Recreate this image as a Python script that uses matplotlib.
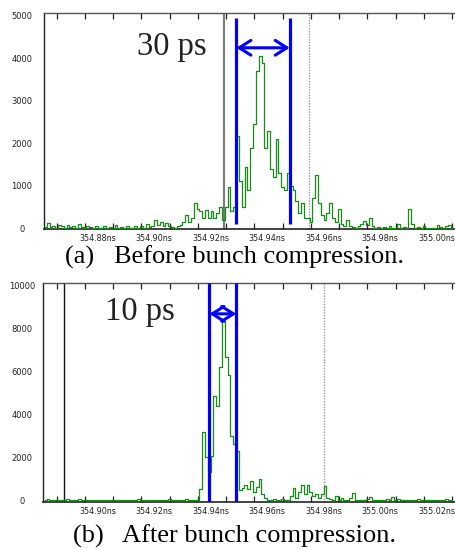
import numpy as np
import matplotlib
matplotlib.use('Agg')
import matplotlib.pyplot as plt
from matplotlib.transforms import ScaledTranslation

# ---------------- data ----------------
# (a) before bunch compression: counts sampled every 1 ps starting at top_t0 (ns)
top_t0 = 354.856
top_dt = 0.001
top_counts = [30, 120, 20, 60, 10, 80, 40, 0, 70, 20,
              50, 0, 90, 30, 0, 60, 20, 0, 40, 10,
              0, 50, 0, 30, 0, 80, 0, 20, 0, 60,
              0, 0, 40, 0, 50, 0, 100, 20, 60, 200,
              80, 150, 40, 120, 60, 20, 0, 40, 80, 150,
              300, 150, 250, 600, 450, 400, 250, 420, 250, 400,
              250, 350, 500, 200, 500, 970, 400, 500, 2170, 1100,
              500, 1430, 900, 1900, 2450, 3700, 4050, 3900, 1900, 2300,
              1400, 1200, 2100, 1300, 960, 900, 1290, 1000, 900, 650,
              350, 600, 250, 250, 150, 700, 1250, 600, 300, 200,
              350, 600, 250, 150, 460, 100, 60, 200, 60, 20,
              0, 40, 100, 160, 80, 250, 60,
              0, 30, 0, 20, 0, 40, 0, 10, 100, 0,
              30, 0, 440, 100, 0, 20, 0, 40, 0, 0,
              10, 0, 80, 20, 0, 60, 80, 0]
top_xlim = [354.8555, 355.001]
top_ylim = [-20, 5070]
top_yticks = [0, 1000, 2000, 3000, 4000, 5000]
top_xticks = [354.86, 354.87, 354.88, 354.89, 354.90, 354.91, 354.92, 354.93,
              354.94, 354.95, 354.96, 354.97, 354.98, 354.99, 355.00]
top_xticklabels = ['', '', '354.88ns', '', '354.90ns', '', '354.92ns', '',
                   '354.94ns', '', '354.96ns', '', '354.98ns', '', '355.00ns']
top_cursor = 354.9191      # solid cursor
top_dotted = 354.9493      # dotted cursor
top_marks = [354.9236, 354.9425]   # blue FWHM markers
top_arrow_y = 4250
top_mark_range = [90, 4950]
top_label = '30 ps'

# (b) after bunch compression
bot_t0 = 354.876
bot_dt = 0.001
bot_counts = [0, 50, 0, 0, 20, 0, 0, 0, 30, 0,
              0, 0, 60, 0, 0, 0, 0, 0, 0, 0,
              0, 0, 0, 0, 0, 0, 0, 0, 0, 0,
              0, 0, 0, 40, 0, 0, 0, 0, 0, 0,
              0, 0, 0, 0, 30, 0, 0, 0, 0, 0,
              40, 0, 0, 0, 0, 500, 3180, 2000, 1300, 2070,
              4850, 4400, 6200, 8380, 6700, 5850, 3000, 2600, 2300, 460,
              550, 700, 500, 900, 400, 600, 1000, 300, 100, 0,
              0, 50, 0, 0, 30, 0, 0, 200, 550, 100,
              400, 700, 300, 700, 400, 200, 300, 100, 300, 640,
              100, 50, 0, 200, 0, 80, 0, 0, 100, 320,
              0, 0, 0, 0, 50, 150, 0, 0, 0, 0,
              0, 30, 0, 150, 0, 60, 0, 0, 0, 0,
              0, 0, 40, 0, 0, 0, 0, 0, 0, 0,
              0, 0, 50, 0, 0]
bot_xlim = [354.8752, 355.0210]
bot_ylim = [-90, 10140]
bot_yticks = [0, 2000, 4000, 6000, 8000, 10000]
bot_xticks = [354.88, 354.89, 354.90, 354.91, 354.92, 354.93, 354.94, 354.95,
              354.96, 354.97, 354.98, 354.99, 355.00, 355.01, 355.02]
bot_xticklabels = ['', '', '354.90ns', '', '354.92ns', '', '354.94ns', '',
                   '354.96ns', '', '354.98ns', '', '355.00ns', '', '355.02ns']
bot_cursor = 354.8826
bot_dotted = 354.9747
bot_marks = [354.9341, 354.9436]
bot_arrow_y = 8700
bot_mark_range = [-90, 10140]
bot_label = '10 ps'

captions = ['(a)   Before bunch compression.', '(b)   After bunch compression.']

# ---------------- figure ----------------
W, H = 455, 549
fig = plt.figure(figsize=(W / 100, H / 100), dpi=100)

def px_axes(left, top, right, bottom):
    return fig.add_axes([left / W, 1 - bottom / H, (right - left) / W, (bottom - top) / H])

ax1 = px_axes(44, 13, 455, 229)
ax2 = px_axes(43, 283, 455, 502)

serif = ['Liberation Serif', 'DejaVu Serif']

panels = [
    (ax1, top_t0, top_dt, top_counts, top_xlim, top_ylim, top_yticks, top_xticks,
     top_xticklabels, top_cursor, '#7a7a7a', 1.5, top_dotted, top_marks, top_arrow_y,
     top_mark_range, top_label, 15.8),
    (ax2, bot_t0, bot_dt, bot_counts, bot_xlim, bot_ylim, bot_yticks, bot_xticks,
     bot_xticklabels, bot_cursor, '#111111', 1.0, bot_dotted, bot_marks, bot_arrow_y,
     bot_mark_range, bot_label, 15.1),
]

for (ax, t0, dt, counts, xlim, ylim, yticks, xticks, xtl, cur, curc, curlw,
     dot, marks, ay, mrange, label, ypad) in panels:
    t = t0 + dt * np.arange(len(counts))
    ax.plot(t, counts, color='#178a17', lw=0.9, zorder=3, drawstyle='steps-mid')
    ax.set_xlim(*xlim)
    ax.set_ylim(*ylim)
    ax.axvline(cur, color=curc, lw=curlw, zorder=2)
    ax.axvline(dot, color='#9a9a9a', lw=1.0, ls=(0, (1, 1)), zorder=2)
    ax.vlines(marks, mrange[0], mrange[1], color='#0000ff', lw=2.3, zorder=4)
    ax.annotate('', xy=(marks[1], ay), xytext=(marks[0], ay),
                arrowprops=dict(arrowstyle='<->,head_length=0.6,head_width=0.38',
                                color='#0000ff', lw=2.2, shrinkA=0, shrinkB=0,
                                mutation_scale=14), zorder=5)

    ax.set_yticks(yticks)
    ax.set_yticklabels([str(v) for v in yticks])
    ax.tick_params(axis='y', length=0, pad=ypad, labelsize=6, labelcolor='#222222')
    for lab in ax.get_yticklabels():
        lab.set_horizontalalignment('center')

    ax.set_xticks(xticks)
    ax.set_xticklabels(xtl)
    ax.tick_params(axis='x', direction='in', top=True, bottom=True, length=4,
                   width=0.9, color='#222222', pad=3.5, labelsize=5.8,
                   labelcolor='#222222')
    for lab in ax.get_xticklabels():
        lab.set_horizontalalignment('right')
        lab.set_transform(lab.get_transform() + ScaledTranslation(3 / 100, 0, fig.dpi_scale_trans))

    ax.spines['right'].set_visible(False)
    ax.spines['left'].set_color('#222222')
    ax.spines['left'].set_linewidth(1.0)
    ax.spines['bottom'].set_color('#222222')
    ax.spines['bottom'].set_linewidth(1.2)
    ax.spines['top'].set_color('#555555')
    ax.spines['top'].set_linewidth(1.0)
    ax.set_facecolor('white')

# big labels inside panels
fig.text(137 / W, 1 - 55 / H, top_label, family=serif, fontsize=23.5,
         color='#222222', ha='left', va='baseline')
fig.text(105 / W, 1 - 320 / H, bot_label, family=serif, fontsize=23.5,
         color='#222222', ha='left', va='baseline')

# captions
fig.text(65 / W, 1 - 264 / H, captions[0], family=serif, fontsize=19,
         color='black', ha='left', va='baseline')
fig.text(73 / W, 1 - 543 / H, captions[1], family=serif, fontsize=19,
         color='black', ha='left', va='baseline')

fig.savefig('out.png', dpi=100, facecolor='white')
